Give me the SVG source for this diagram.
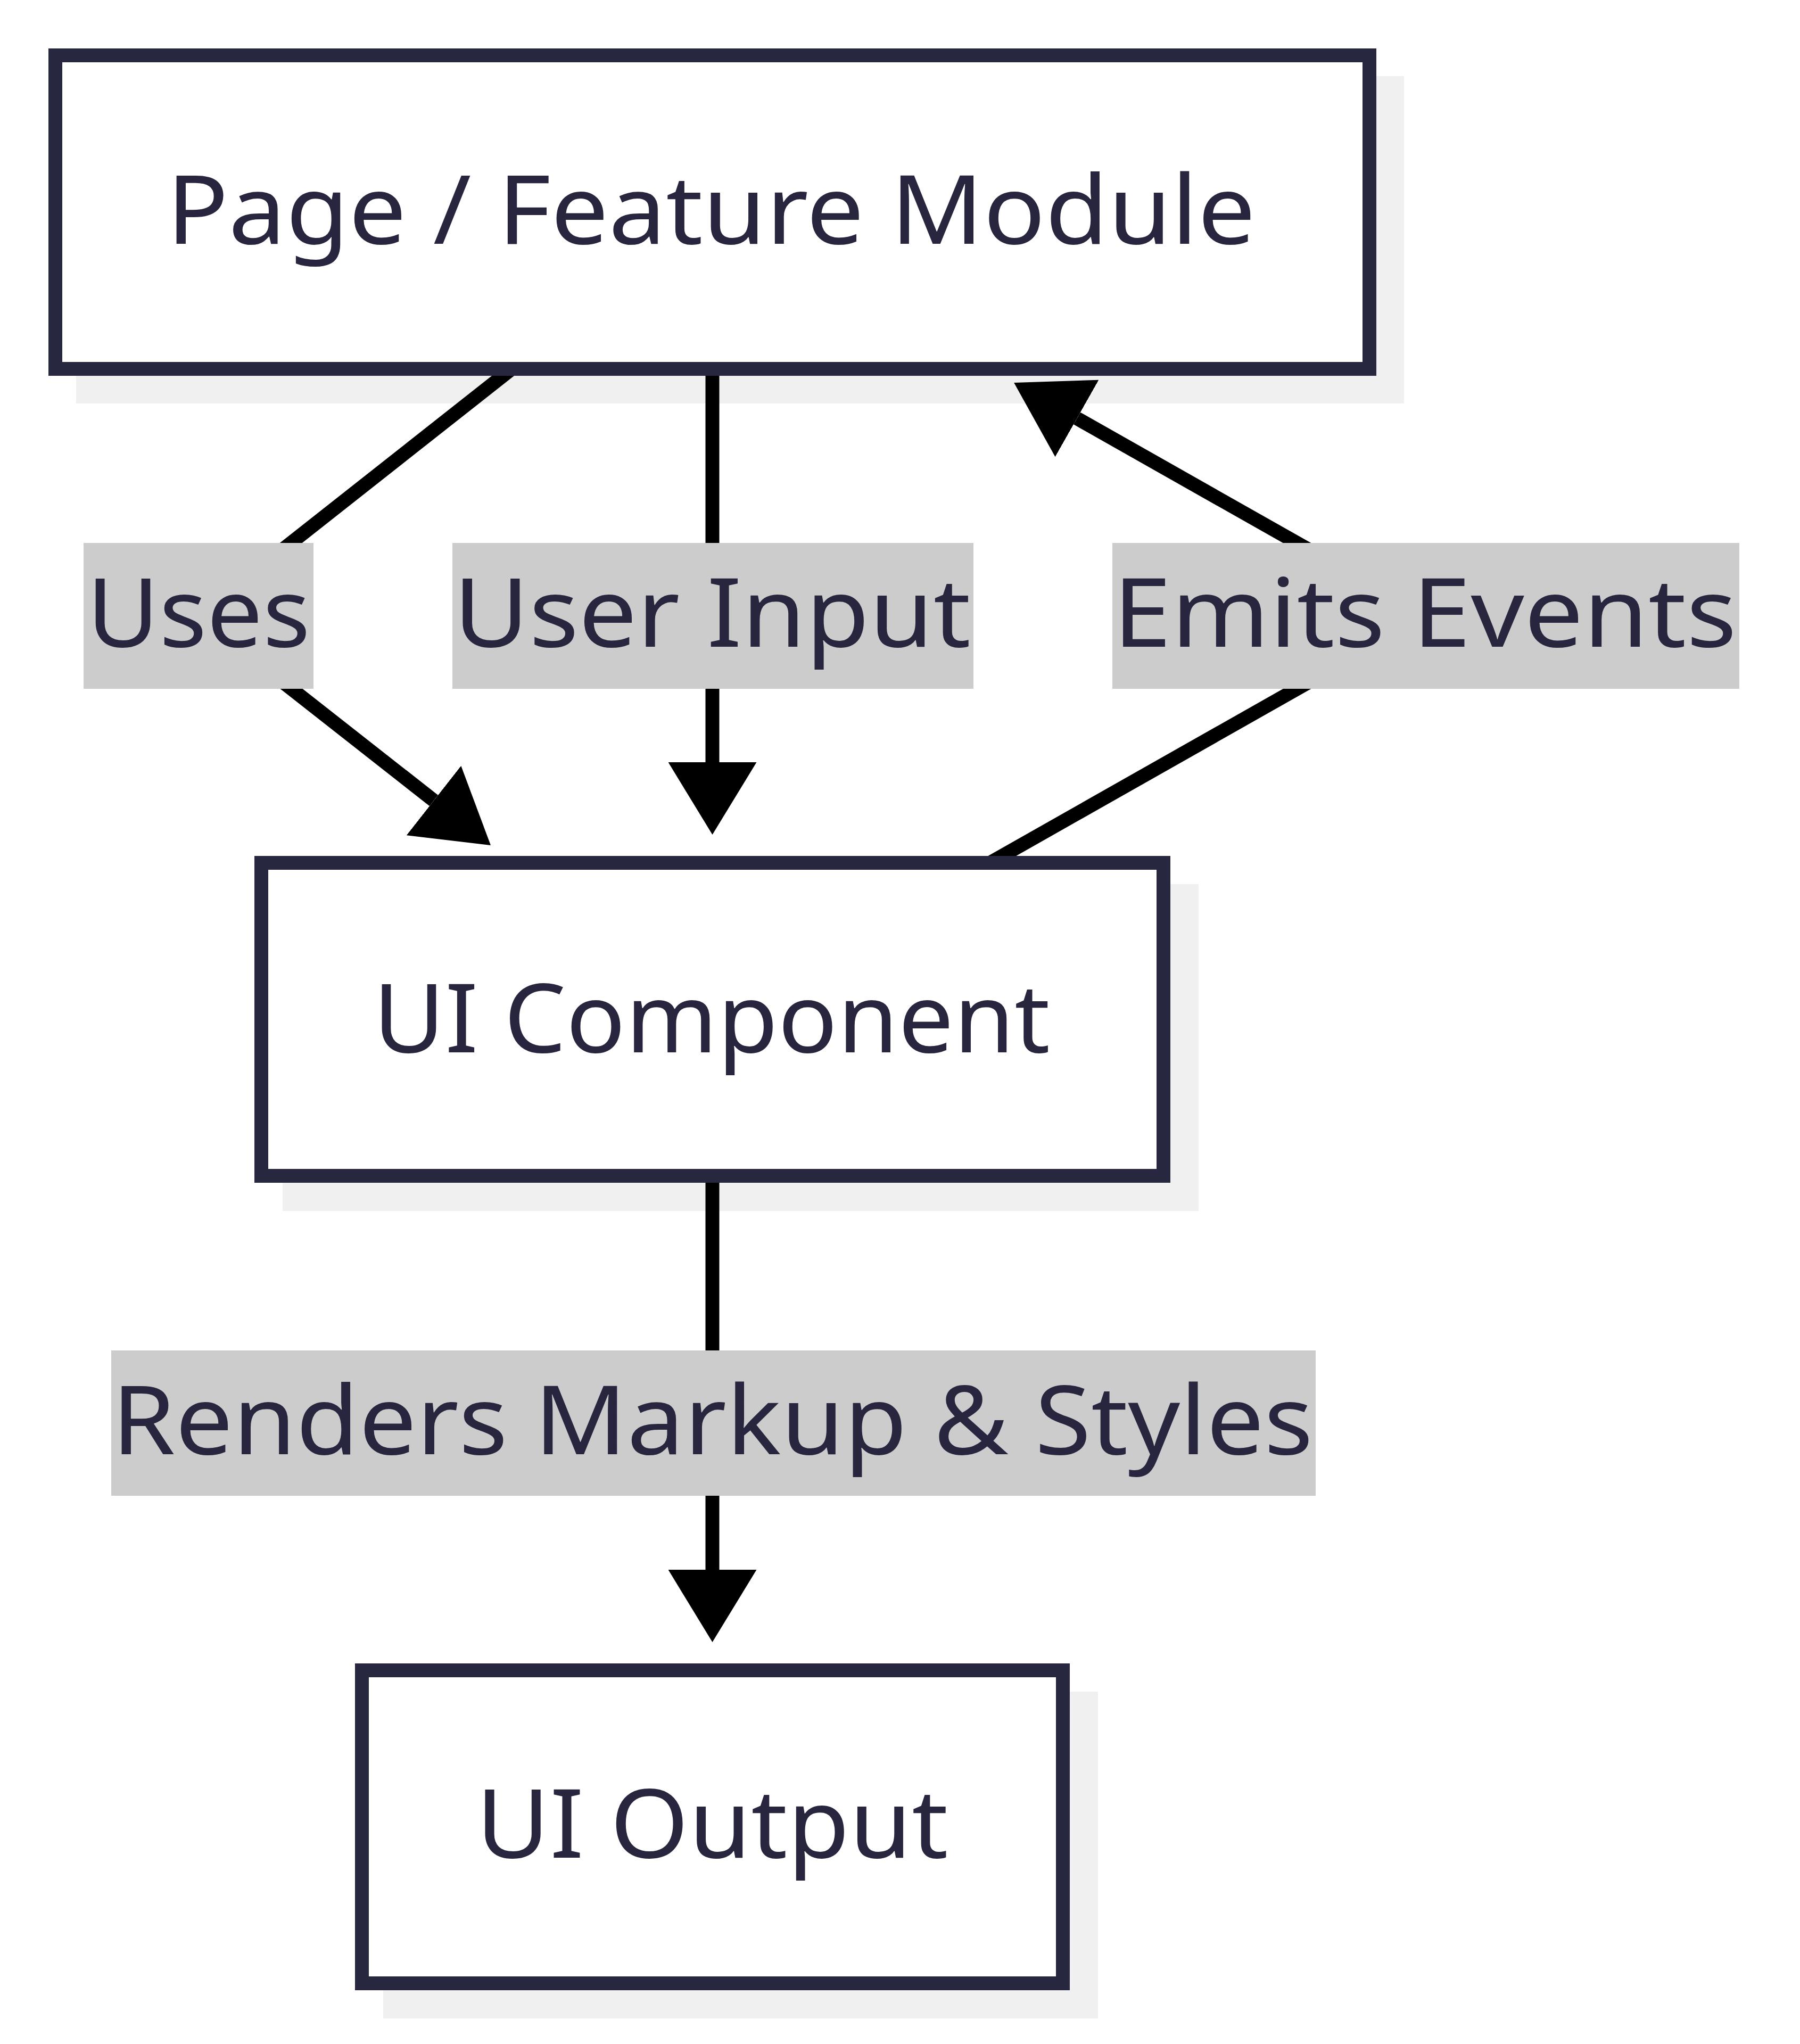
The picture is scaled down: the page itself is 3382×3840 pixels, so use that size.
<svg xmlns="http://www.w3.org/2000/svg" width="3382" height="3840" viewBox="0 0 3382 3840">
  <style>
    .shadow { fill: #f0f0f0; stroke: none; }
    .box { fill: #ffffff; stroke: #272740; stroke-width: 26; }
    .ntext { font-family: "Noto Sans", "Open Sans", sans-serif; font-size: 180px; fill: #28253f; text-anchor: middle; }
    .edge { fill: none; stroke: #000000; stroke-width: 26; stroke-linecap: butt; stroke-linejoin: miter; }
    .lblbg { fill: #cccccc; stroke: none; }
  </style>
  <defs>
    <marker id="arrow" markerUnits="userSpaceOnUse" markerWidth="136" markerHeight="166" refX="0" refY="83" orient="auto" viewBox="0 0 136 166">
      <path d="M0,0 L136,83 L0,166 Z" fill="#000000"/>
    </marker>
    <clipPath id="outside-nodes">
      <path clip-rule="evenodd" d="M0,0H3382V3840H0Z M91,91H2586V706H91Z M478,1608H2199V2222H478Z M667,3125H2010V3739H667Z"/>
    </clipPath>
  </defs>
  <rect x="0" y="0" width="3382" height="3840" fill="#ffffff"/>

  <g id="node-page">
    <rect class="shadow" x="143" y="143" width="2495" height="615"/>
    <rect class="box" x="104" y="104" width="2469" height="589"/>
    <text class="ntext" x="1336" y="458" textLength="2046" lengthAdjust="spacingAndGlyphs">Page / Feature Module</text>
  </g>
  <g id="node-component">
    <rect class="shadow" x="531" y="1661" width="1721" height="614"/>
    <rect class="box" x="491" y="1621" width="1695" height="588"/>
    <text class="ntext" x="1337" y="1977" textLength="1272" lengthAdjust="spacingAndGlyphs">UI Component</text>
  </g>
  <g id="node-output">
    <rect class="shadow" x="720" y="3178" width="1343" height="614"/>
    <rect class="box" x="680" y="3138" width="1317" height="588"/>
    <text class="ntext" x="1338" y="3490" textLength="887" lengthAdjust="spacingAndGlyphs">UI Output</text>
  </g>

  <g id="connectors" clip-path="url(#outside-nodes)">
    <path class="edge" d="M978,680 L373,1157 L815,1504" marker-end="url(#arrow)"/>
    <path class="edge" d="M1338.5,680 L1338.5,1432" marker-end="url(#arrow)"/>
    <path class="edge" d="M1837,1634 L2679,1157 L2023.5,786" marker-end="url(#arrow)"/>
    <path class="edge" d="M1338.5,2196 L1338.5,2949" marker-end="url(#arrow)"/>
  </g>

  <g id="edge-labels">
    <g id="label-uses">
      <rect class="lblbg" x="157" y="1020" width="432" height="274"/>
      <text class="ntext" x="373" y="1215" textLength="420" lengthAdjust="spacingAndGlyphs">Uses</text>
    </g>
    <g id="label-userinput">
      <rect class="lblbg" x="850" y="1020" width="979" height="274"/>
      <text class="ntext" x="1338" y="1215" textLength="972" lengthAdjust="spacingAndGlyphs">User Input</text>
    </g>
    <g id="label-emits">
      <rect class="lblbg" x="2090" y="1020" width="1178" height="274"/>
      <text class="ntext" x="2677" y="1215" textLength="1172" lengthAdjust="spacingAndGlyphs">Emits Events</text>
    </g>
    <g id="label-renders">
      <rect class="lblbg" x="209" y="2537" width="2263" height="273"/>
      <text class="ntext" x="1338.5" y="2732" textLength="2257" lengthAdjust="spacingAndGlyphs">Renders Markup &amp; Styles</text>
    </g>
  </g>
</svg>
